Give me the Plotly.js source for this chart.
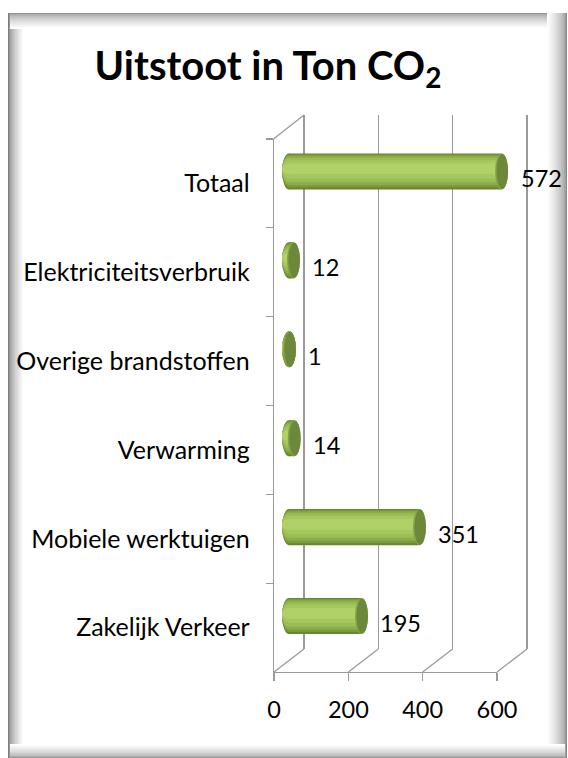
<!DOCTYPE html>
<html>
<head>
<meta charset="utf-8">
<script src="https://cdn.plot.ly/plotly-3.0.1.min.js"></script>
<style>html,body{margin:0;padding:0;background:#fff;}#chart{width:568px;height:758px;}</style>
</head>
<body>
<div id="chart"></div>
<script>
// ---- data ----
const categories = ["Totaal", "Elektriciteitsverbruik", "Overige brandstoffen", "Verwarming", "Mobiele werktuigen", "Zakelijk Verkeer"];
const values = [572, 12, 1, 14, 351, 195];
const xTicks = [0, 200, 400, 600];
const xTickLabels = ["0", "200", "400", "600"];
const titleText = "Uitstoot in Ton CO<sub>2</sub>";

// ---- geometry helpers ----
const W = 568, H = 758;
const px = v => v / W;
const pyDom = (top, bottom) => [(H - bottom) / H, (H - top) / H];
const FONT = "Lato, 'Open Sans', sans-serif";
const GRID = "#9a9a9a";
const S = 223 / 600;            // px per unit along value axis
const U = 533.5 / 6;            // px per category

// cylinder shading bands: [width (category units), centre shift, colour]
const bands = [
  [0.405, 0.000, "#68862f"],
  [0.372, -0.006, "#7a9a3c"],
  [0.330, -0.012, "#8cad49"],
  [0.275, -0.018, "#9abd55"],
  [0.205, -0.024, "#a5c85e"],
  [0.120, -0.030, "#afd168"]
];

const traces = bands.map(b => ({
  type: "bar", orientation: "h", xaxis: "x2", yaxis: "y2",
  x: values, y: categories, width: b[0], offset: b[1] - b[0] / 2,
  marker: {color: b[2], line: {width: 0}}, hoverinfo: "skip", showlegend: false
}));

const shapes = [];
// frame with soft shading
function strip(x0, y0, x1, y1, c) {
  shapes.push({type: "rect", xref: "paper", yref: "paper", layer: "below",
    x0: px(x0), x1: px(x1), y0: (H - y1) / H, y1: (H - y0) / H,
    fillcolor: c, line: {width: 0}});
}
function grey(g) { g = Math.round(g); return `rgb(${g},${g},${g})`; }
const FL = 8, FT = 13, FR = 567, FB = 758;
for (let i = 15; i >= 0; i--) { const t = i / 15; strip(FL + i, FT, FL + i + 1, FB, grey(125 + 130 * Math.pow(t, 0.6))); }
for (let i = 15; i >= 0; i--) { const t = i / 15; strip(FL + 2, FT + i, FR, FT + i + 1, grey(150 + 105 * Math.pow(t, 0.6))); }
for (let i = 19; i >= 0; i--) { const t = i / 19; strip(FR - i - 1, FT, FR - i, FB, grey(135 + 120 * Math.pow(t, 0.55))); }
for (let i = 13; i >= 0; i--) { const t = i / 13; strip(FL + 2, FB - i - 1, FR - 2, FB - i, grey(150 + 105 * Math.pow(t, 0.55))); }
strip(FL + 16, FT + 16, FR - 20, FB - 14, "#ffffff");

// middle plane extents (extended so the 3D edges are not clipped)
const EX = 60, EY = 0.15;
const midTop = 127 - EY * U, midBot = 660.5 + EY * U;
const floorFrac = (EY * U) / (midBot - midTop);

// floor diagonals and left wall top edge
xTicks.forEach(t => {
  shapes.push({type: "line", xref: "x2", yref: "y2 domain", xsizemode: "pixel", ysizemode: "pixel",
    xanchor: t, yanchor: floorFrac, x0: -15, x1: 15, y0: -11.5, y1: 11.5,
    line: {color: GRID, width: 1.3}, layer: "above"});
});
shapes.push({type: "line", xref: "x2", yref: "y2 domain", xsizemode: "pixel", ysizemode: "pixel",
  xanchor: 0, yanchor: 1 - floorFrac, x0: -15.5, x1: 15, y0: -12, y1: 12,
  line: {color: GRID, width: 1.3}, layer: "above"});

// cylinder ends
categories.forEach((c, i) => {
  bands.forEach(b => {
    const half = b[0] * U / 2, ctr = -b[1] * U;
    shapes.push({type: "circle", xref: "x2", yref: "y2", xsizemode: "pixel", ysizemode: "pixel",
      xanchor: 0, yanchor: c, x0: -7, x1: 7, y0: ctr - half, y1: ctr + half,
      fillcolor: b[2], line: {width: 0}, layer: "between"});
  });
  const h = bands[0][0] * U / 2;
  shapes.push({type: "circle", xref: "x2", yref: "y2", xsizemode: "pixel", ysizemode: "pixel",
    xanchor: values[i], yanchor: c, x0: -6.5, x1: 6.5, y0: -h, y1: h,
    fillcolor: "#86a447", line: {width: 0}, layer: "above"});
  shapes.push({type: "circle", xref: "x2", yref: "y2", xsizemode: "pixel", ysizemode: "pixel",
    xanchor: values[i], yanchor: c, x0: -5, x1: 6.5, y0: -h + 0.5, y1: h - 0.5,
    fillcolor: "#6c883a", line: {width: 0}, layer: "above"});
});

const annotations = categories.map((c, i) => ({
  xref: "x2", yref: "y2", x: values[i], y: c, text: String(values[i]),
  xanchor: "left", yanchor: "middle", xshift: 17, yshift: -7, showarrow: false,
  font: {family: FONT, size: 23.5, color: "#000"}
}));

const GB = 3; // back-plane range padding so edge gridlines are kept
const layout = {
  width: W, height: H, margin: {l: 0, r: 0, t: 0, b: 0},
  paper_bgcolor: "#ffffff", plot_bgcolor: "rgba(0,0,0,0)",
  barmode: "overlay", showlegend: false, hovermode: false,
  title: {text: titleText, x: 268 / W, xanchor: "center", y: 1 - 66 / H, yanchor: "middle",
    font: {family: FONT, size: 40, color: "#000", weight: 700}},
  // back wall
  xaxis: {domain: [px(304 - GB * S), px(527 + GB * S)], range: [-GB, 600 + GB], tickvals: xTicks, showticklabels: false,
    showgrid: true, gridcolor: GRID, gridwidth: 1.3, zeroline: false, showline: false, ticks: "", anchor: "y", fixedrange: true},
  yaxis: {domain: pyDom(115, 649), range: [0, 1], visible: false, anchor: "x", fixedrange: true},
  // middle plane (bars)
  xaxis2: {domain: [px(289 - EX * S), px(512 + EX * S)], range: [-EX, 600 + EX], visible: false, anchor: "y2", fixedrange: true},
  yaxis2: {domain: pyDom(midTop, midBot), type: "category", categoryorder: "array", categoryarray: categories,
    range: [5.5 + EY, -0.5 - EY], visible: false, anchor: "x2", fixedrange: true},
  // front plane (axes and labels)
  xaxis3: {domain: [px(274), px(497)], range: [0, 600], tickvals: xTicks, ticktext: xTickLabels,
    showgrid: false, zeroline: false, showline: true, linecolor: GRID, linewidth: 1.3,
    ticks: "outside", ticklen: 8, tickcolor: GRID, tickwidth: 1.3, ticklabelstandoff: 8,
    tickfont: {family: FONT, size: 23.5, color: "#000"}, anchor: "y3", fixedrange: true},
  yaxis3: {domain: pyDom(139, 672), type: "category", categoryorder: "array", categoryarray: categories,
    range: [5.5, -0.5], showgrid: false, zeroline: false, showline: true, linecolor: GRID, linewidth: 1.3,
    ticks: "outside", ticklen: 7, tickcolor: GRID, tickwidth: 1.3, tickson: "boundaries",
    ticklabelstandoff: 18, tickfont: {family: FONT, size: 25, color: "#000"}, anchor: "x3", fixedrange: true},
  shapes: shapes,
  annotations: annotations
};

// invisible traces so the front and back subplots exist
traces.unshift({type: "scatter", x: [null], y: [null], xaxis: "x", yaxis: "y", hoverinfo: "skip", showlegend: false});
traces.push({type: "scatter", x: [null], y: [categories[0]], xaxis: "x3", yaxis: "y3", mode: "markers",
  marker: {opacity: 0}, hoverinfo: "skip", showlegend: false});

Plotly.newPlot("chart", traces, layout, {staticPlot: true, displayModeBar: false});
</script>
</body>
</html>
